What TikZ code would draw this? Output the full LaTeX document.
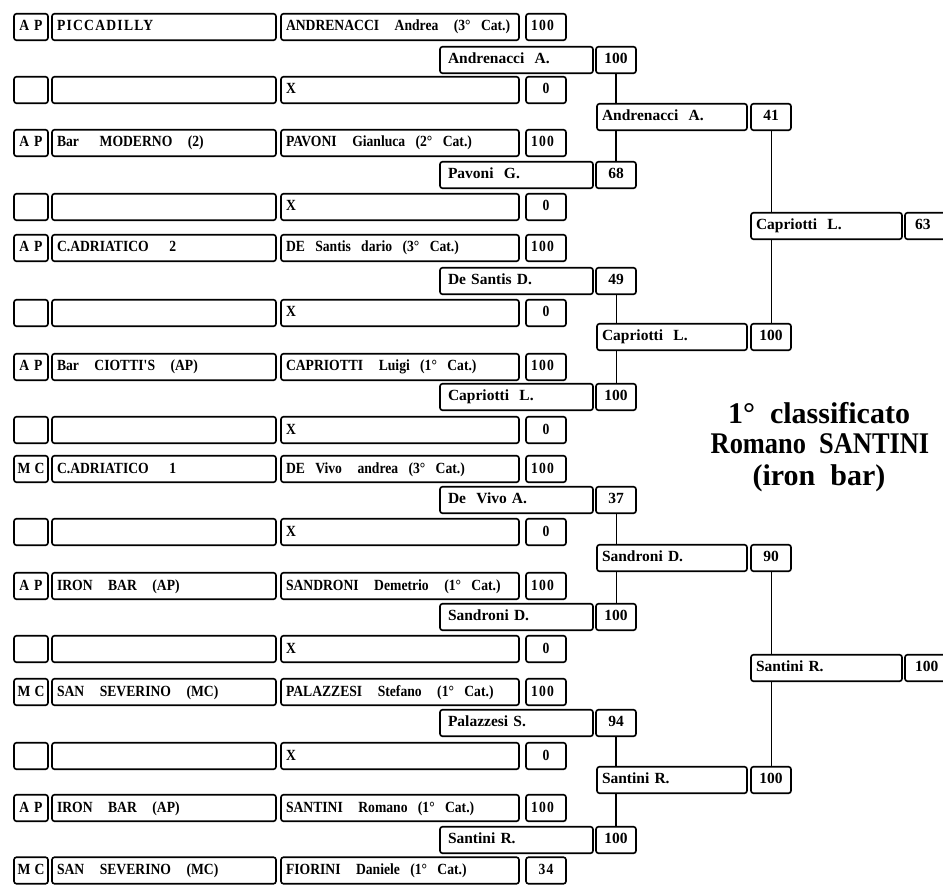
\documentclass[tikz,border=0pt]{standalone}
\usepackage{fontspec}
\setmainfont{Liberation Serif}
\newfontfamily\ronefont[FakeStretch=0.88]{Liberation Serif}
\newfontfamily\spacedfont[FakeStretch=0.88,LetterSpace=8]{Liberation Serif}
\newcommand{\mybox}[7]{%
  \pgfmathsetmacro{\myBW}{#3-#2}%
  \pgfmathsetmacro{\myTW}{#3-#2-10}%
  \pgfmathsetmacro{\myBC}{(#2+#3)/2}%
  \node[#5, minimum width=\myBW pt, text width=\myTW pt, align=#6] (#1) at (\myBC,#4) {#7};}
\tikzset{
  bx/.style={draw, line width=1.6pt, rounded corners=2.5pt, minimum height=26.5pt,
    inner xsep=5pt, inner ysep=0pt, text height=10.5pt, text depth=2.5pt,
    font=\bfseries\ronefont\fontsize{15.5}{17}\selectfont},
  bxs/.style={bx, font=\bfseries\spacedfont\fontsize{15.5}{17}\selectfont},
  tagbx/.style={bx, minimum width=34pt, inner xsep=0pt},
  bxb/.style={bx, text height=10.5pt, text depth=3pt, font=\bfseries\fontsize{15.5}{18}\selectfont},
  conn/.style={line width=0.9pt},
  connthick/.style={line width=1.9pt},
  win/.style={font=\bfseries\fontsize{30}{32}\selectfont, inner sep=0pt}
}
\begin{document}
\begin{tikzpicture}[x=1pt,y=-1pt]
\useasboundingbox (0,0) rectangle (943,885);
% ---------- round 1 ----------
% columns: 14-48 | 52-276 | 281-519 | 526-566
\node[tagbx] (a1) at (31,27) {A\hspace{5pt}P};
\mybox{b1}{52}{276}{27}{bxs}{left}{PICCADILLY}
\mybox{c1}{281}{519}{27}{bx}{left}{ANDRENACCI\ \ \ Andrea\ \ \ (3°\ \ Cat.)}
\mybox{d1}{526}{566}{27}{bxs}{left}{100}

\node[tagbx] (a2) at (31,90) {};
\mybox{b2}{52}{276}{90}{bx}{left}{}
\mybox{c2}{281}{519}{90}{bx}{left}{X}
\mybox{d2}{526}{566}{90}{bx}{center}{0}

\node[tagbx] (a3) at (31,143) {A\hspace{5pt}P};
\mybox{b3}{52}{276}{143}{bx}{left}{Bar\ \ \ \ MODERNO\ \ \ (2)}
\mybox{c3}{281}{519}{143}{bx}{left}{PAVONI\ \ \ Gianluca\ \ (2°\ \ Cat.)}
\mybox{d3}{526}{566}{143}{bxs}{left}{100}

\node[tagbx] (a4) at (31,207) {};
\mybox{b4}{52}{276}{207}{bx}{left}{}
\mybox{c4}{281}{519}{207}{bx}{left}{X}
\mybox{d4}{526}{566}{207}{bx}{center}{0}

\node[tagbx] (a5) at (31,248) {A\hspace{5pt}P};
\mybox{b5}{52}{276}{248}{bx}{left}{C.ADRIATICO\ \ \ \ 2}
\mybox{c5}{281}{519}{248}{bx}{left}{DE\ \ Santis\ \ dario\ \ (3°\ \ Cat.)}
\mybox{d5}{526}{566}{248}{bxs}{left}{100}

\node[tagbx] (a6) at (31,313) {};
\mybox{b6}{52}{276}{313}{bx}{left}{}
\mybox{c6}{281}{519}{313}{bx}{left}{X}
\mybox{d6}{526}{566}{313}{bx}{center}{0}

\node[tagbx] (a7) at (31,367) {A\hspace{5pt}P};
\mybox{b7}{52}{276}{367}{bx}{left}{Bar\ \ \ CIOTTI'S\ \ \ (AP)}
\mybox{c7}{281}{519}{367}{bx}{left}{CAPRIOTTI\ \ \ Luigi\ \ (1°\ \ Cat.)}
\mybox{d7}{526}{566}{367}{bxs}{left}{100}

\node[tagbx] (a8) at (31,430) {};
\mybox{b8}{52}{276}{430}{bx}{left}{}
\mybox{c8}{281}{519}{430}{bx}{left}{X}
\mybox{d8}{526}{566}{430}{bx}{center}{0}

\node[tagbx] (a9) at (31,469) {M\hspace{4pt}C};
\mybox{b9}{52}{276}{469}{bx}{left}{C.ADRIATICO\ \ \ \ 1}
\mybox{c9}{281}{519}{469}{bx}{left}{DE\ \ Vivo\ \ \ andrea\ \ (3°\ \ Cat.)}
\mybox{d9}{526}{566}{469}{bxs}{left}{100}

\node[tagbx] (a10) at (31,532) {};
\mybox{b10}{52}{276}{532}{bx}{left}{}
\mybox{c10}{281}{519}{532}{bx}{left}{X}
\mybox{d10}{526}{566}{532}{bx}{center}{0}

\node[tagbx] (a11) at (31,586) {A\hspace{5pt}P};
\mybox{b11}{52}{276}{586}{bx}{left}{IRON\ \ \ BAR\ \ \ (AP)}
\mybox{c11}{281}{519}{586}{bx}{left}{SANDRONI\ \ \ Demetrio\ \ \ (1°\ \ Cat.)}
\mybox{d11}{526}{566}{586}{bxs}{left}{100}

\node[tagbx] (a12) at (31,649) {};
\mybox{b12}{52}{276}{649}{bx}{left}{}
\mybox{c12}{281}{519}{649}{bx}{left}{X}
\mybox{d12}{526}{566}{649}{bx}{center}{0}

\node[tagbx] (a13) at (31,692) {M\hspace{4pt}C};
\mybox{b13}{52}{276}{692}{bx}{left}{SAN\ \ \ SEVERINO\ \ \ (MC)}
\mybox{c13}{281}{519}{692}{bx}{left}{PALAZZESI\ \ \ Stefano\ \ \ (1°\ \ Cat.)}
\mybox{d13}{526}{566}{692}{bxs}{left}{100}

\node[tagbx] (a14) at (31,756) {};
\mybox{b14}{52}{276}{756}{bx}{left}{}
\mybox{c14}{281}{519}{756}{bx}{left}{X}
\mybox{d14}{526}{566}{756}{bx}{center}{0}

\node[tagbx] (a15) at (31,808) {A\hspace{5pt}P};
\mybox{b15}{52}{276}{808}{bx}{left}{IRON\ \ \ BAR\ \ \ (AP)}
\mybox{c15}{281}{519}{808}{bx}{left}{SANTINI\ \ \ Romano\ \ (1°\ \ Cat.)}
\mybox{d15}{526}{566}{808}{bxs}{left}{100}

\node[tagbx] (a16) at (31,870.5) {M\hspace{4pt}C};
\mybox{b16}{52}{276}{870.5}{bx}{left}{SAN\ \ \ SEVERINO\ \ \ (MC)}
\mybox{c16}{281}{519}{870.5}{bx}{left}{FIORINI\ \ \ Daniele\ \ (1°\ \ Cat.)}
\mybox{d16}{526}{566}{870.5}{bxs}{center}{34}

% ---------- round 2 ----------
\mybox{n21}{440}{593}{60}{bxb}{left}{\hspace{3pt}Andrenacci\ \ A.}
\mybox{s21}{596}{636}{60}{bxb}{center}{100}
\mybox{n22}{440}{593}{175}{bxb}{left}{\hspace{3pt}Pavoni\ \ G.}
\mybox{s22}{596}{636}{175}{bxb}{center}{68}
\mybox{n23}{440}{593}{281}{bxb}{left}{\hspace{3pt}De Santis D.}
\mybox{s23}{596}{636}{281}{bxb}{center}{49}
\mybox{n24}{440}{593}{397}{bxb}{left}{\hspace{3pt}Capriotti\ \ L.}
\mybox{s24}{596}{636}{397}{bxb}{center}{100}
\mybox{n25}{440}{593}{500}{bxb}{left}{\hspace{3pt}De\ \ Vivo\ A.}
\mybox{s25}{596}{636}{500}{bxb}{center}{37}
\mybox{n26}{440}{593}{617}{bxb}{left}{\hspace{3pt}Sandroni D.}
\mybox{s26}{596}{636}{617}{bxb}{center}{100}
\mybox{n27}{440}{593}{723}{bxb}{left}{\hspace{3pt}Palazzesi S.}
\mybox{s27}{596}{636}{723}{bxb}{center}{94}
\mybox{n28}{440}{593}{840}{bxb}{left}{\hspace{3pt}Santini R.}
\mybox{s28}{596}{636}{840}{bxb}{center}{100}

% ---------- round 3 ----------
\mybox{n31}{597}{747}{117}{bxb}{left}{Andrenacci\ \ A.}
\mybox{s31}{751}{791}{117}{bxb}{center}{41}
\mybox{n32}{597}{747}{337}{bxb}{left}{Capriotti\ \ L.}
\mybox{s32}{751}{791}{337}{bxb}{center}{100}
\mybox{n33}{597}{747}{558}{bxb}{left}{Sandroni D.}
\mybox{s33}{751}{791}{558}{bxb}{center}{90}
\mybox{n34}{597}{747}{780}{bxb}{left}{Santini R.}
\mybox{s34}{751}{791}{780}{bxb}{center}{100}

% ---------- round 4 ----------
\mybox{n41}{751}{902}{226}{bxb}{left}{Capriotti\ \ L.}
\mybox{s41}{905}{950}{226}{bxb}{left}{\hspace{5pt}63}
\mybox{n42}{751}{902}{668}{bxb}{left}{Santini R.}
\mybox{s42}{905}{950}{668}{bxb}{left}{\hspace{5pt}100}

% ---------- connectors ----------
\draw[connthick] (s21.south) -- (s21.south |- n31.north);
\draw[connthick] (s22.north |- n31.south) -- (s22.north);
\draw[conn] (s23.south) -- (s23.south |- n32.north);
\draw[conn] (s24.north |- n32.south) -- (s24.north);
\draw[conn] (s25.south) -- (s25.south |- n33.north);
\draw[conn] (s26.north |- n33.south) -- (s26.north);
\draw[connthick] (s27.south) -- (s27.south |- n34.north);
\draw[connthick] (s28.north |- n34.south) -- (s28.north);
\draw[conn] (s31.south) -- (s31.south |- n41.north);
\draw[conn] (s32.north |- n41.south) -- (s32.north);
\draw[conn] (s33.south) -- (s33.south |- n42.north);
\draw[conn] (s34.north |- n42.south) -- (s34.north);

% ---------- winner ----------
\node[win] (w1) at (819,413) {1°\ \ classificato};
\node[win] (w2) at (820,444) {\scalebox{0.88}[1]{Romano\ \ SANTINI}};
\node[win] (w3) at (819,478) {(iron\ \ bar)};
\end{tikzpicture}
\end{document}
